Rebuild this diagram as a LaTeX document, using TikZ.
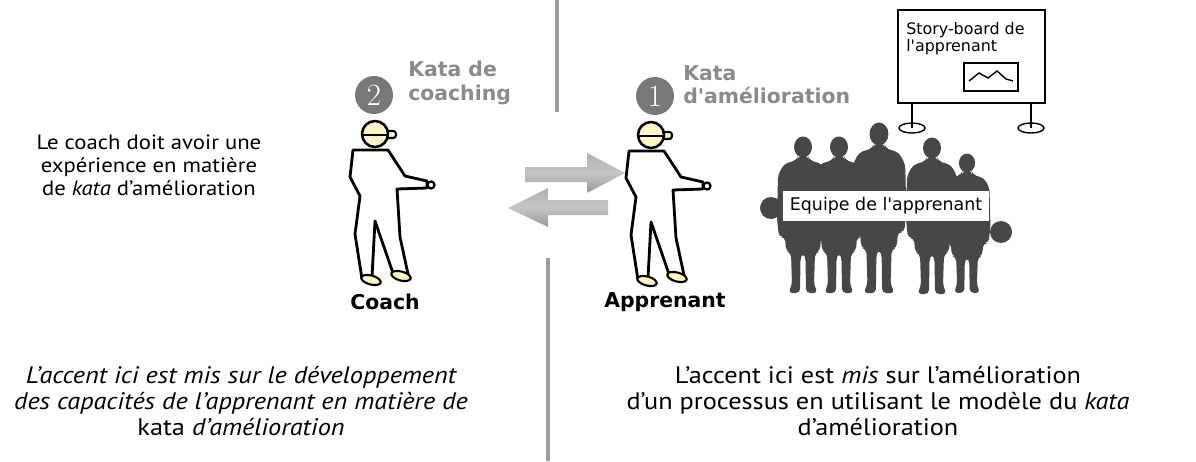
\documentclass[tikz,border=0pt]{standalone}
\usepackage{fontspec}
\newfontfamily\labelfont{DejaVu Sans}[Ligatures=TeXOff]
\newfontfamily\ptfont{PT Sans}[FakeStretch=1.1]
\usepackage{tikz}
\definecolor{skin}{HTML}{FBF6C2}
\definecolor{katagray}{HTML}{8A8A8A}
\definecolor{discgray}{HTML}{787878}
\definecolor{team}{HTML}{474747}
\definecolor{rulegray}{HTML}{9C9C9C}
\tikzset{katalabel/.style={anchor=west, align=left, inner sep=0pt, text=katagray, font=\labelfont\bfseries\fontsize{14.5}{16.5}\selectfont},
  numdisc/.style={circle, fill=discgray, text=white, inner sep=0pt, minimum size=27pt, font=\fontsize{22}{22}\selectfont},
  rolelabel/.style={inner sep=0pt, font=\labelfont\bfseries\fontsize{14.5}{16.5}\selectfont},
  notetext/.style={align=center, inner sep=0pt, font=\ptfont\fontsize{17}{18.8}\selectfont},
  divider/.style={rulegray, line width=3pt},
  swaparrow/.style={top color=gray!62, bottom color=gray!80, middle color=gray!45},
  figure/.pic={
    \draw[line width=2pt, fill=white, line join=round] (-22,16) -- (13,16) -- (30,42) -- (52,47) -- (52,54) -- (22,55) -- (25,103) -- (33,140) -- (19,142) -- (0,87) -- (-3,143) -- (-13,145) -- (-20,100) -- (-15,62) -- (-25,43) -- cycle;
    \draw[line width=1.6pt, fill=white] (56,51) circle[radius=3.5];
    \draw[line width=1.5pt, fill=skin] (-4,146) ellipse[x radius=10, y radius=4.5, rotate=-15];
    \draw[line width=1.5pt, fill=skin] (26,142) ellipse[x radius=10, y radius=4.5, rotate=-15];
    \draw[line width=1.5pt, fill=skin, rounded corners=2pt] (9,-3) rectangle (21,4);
    \draw[line width=1.8pt, fill=skin] (0,0) circle[radius=13];
    \draw[line width=1.8pt] (-13,1) -- (13,1);
  },
  player/.pic={
    \fill[team] (0,0) circle[x radius=9, y radius=10.5];
    \fill[team, rounded corners=3pt] (-5,9) -- (5,9) -- (6,13) -- (19,17) -- (25,28) -- (26,72) -- (24,90) -- (18,90) -- (17,104) -- (12,106) -- (11,138) -- (15,146) -- (3,146) -- (2.5,110) -- (0,106) -- (-2.5,110) -- (-3,146) -- (-15,146) -- (-11,138) -- (-12,106) -- (-17,104) -- (-18,90) -- (-24,90) -- (-26,72) -- (-25,28) -- (-19,17) -- (-6,13) -- cycle;
  }}

\begin{document}
\begin{tikzpicture}[x=0.025cm, y=-0.025cm]
  \useasboundingbox (0,0) rectangle (1196,461);
  \draw[divider] (557,0) -- (557,112);
  \draw[divider] (548,258) -- (548,461);

  \node[numdisc] (coachnum) at (374,95) {2};
  \node[katalabel] (coachkata) at (408,83) {Kata de\\coaching};
  \node[numdisc] (learnnum) at (655,96) {1};
  \node[katalabel] (learnkata) at (683,85) {Kata\\d'amélioration};

  \pic at (375,134) {figure};
  \pic at (651,135) {figure};
  \node[rolelabel] (coach) at (385,302) {Coach};
  \node[rolelabel] (learner) at (665,302) {Apprenant};

  \shade[swaparrow] (525,167) -- (587,167) -- (587,153) -- (625,173) -- (587,193) -- (587,182) -- (525,182) -- cycle;
  \shade[swaparrow] (608,200) -- (548,200) -- (548,188) -- (508,208) -- (548,227) -- (548,215) -- (608,215) -- cycle;

  \node[notetext, font=\ptfont\fontsize{14.7}{16.3}\selectfont] (coachnote) at (149,165) {Le coach doit avoir une\\expérience en matière\\de \textit{kata} d’amélioration};

  \draw[line width=1.1pt, fill=white] (898,10) rectangle (1045,103);
  \node[anchor=north west, align=left, inner sep=0pt, font=\labelfont\fontsize{11.3}{12.5}\selectfont] (board) at (906,22) {Story-board de\\l'apprenant};
  \draw[line width=1pt] (964,63) rectangle (1018,91);
  \draw[line width=1pt] (969,81) -- (979,73) -- (988,78) -- (997,71) -- (1006,79) -- (1013,81);
  \draw[line width=1pt] (912,103) -- (912,128) (1031,103) -- (1031,128);
  \draw[line width=1pt] (912,128) ellipse[x radius=13, y radius=5];
  \draw[line width=1pt] (1031,128) ellipse[x radius=13, y radius=5];

  \pic at (803,147) {player};
  \pic at (839,147) {player};
  \pic[yscale=0.89, xscale=0.9] at (967,163) {player};
  \pic at (932,148) {player};
  \pic[yscale=1.09, xscale=1.05] at (879,134) {player};
  \fill[team] (771,208) circle[radius=11];
  \fill[team] (1001,232) circle[radius=11];
  \node[fill=white, minimum width=147pt, minimum height=21pt, inner sep=0pt, font=\labelfont\fontsize{12.4}{14}\selectfont] (team) at (886,206) {Equipe de l'apprenant};

  \node[notetext] (leftnote) at (241,401) {\itshape L’accent ici est mis sur le développement\\\itshape des capacités de l’apprenant en matière de\\\upshape kata \itshape d’amélioration};
  \node[notetext] (rightnote) at (878,401) {L’accent ici est \textit{mis} sur l’amélioration\\d’un processus en utilisant le modèle du \textit{kata}\\d’amélioration};
\end{tikzpicture}
\end{document}
